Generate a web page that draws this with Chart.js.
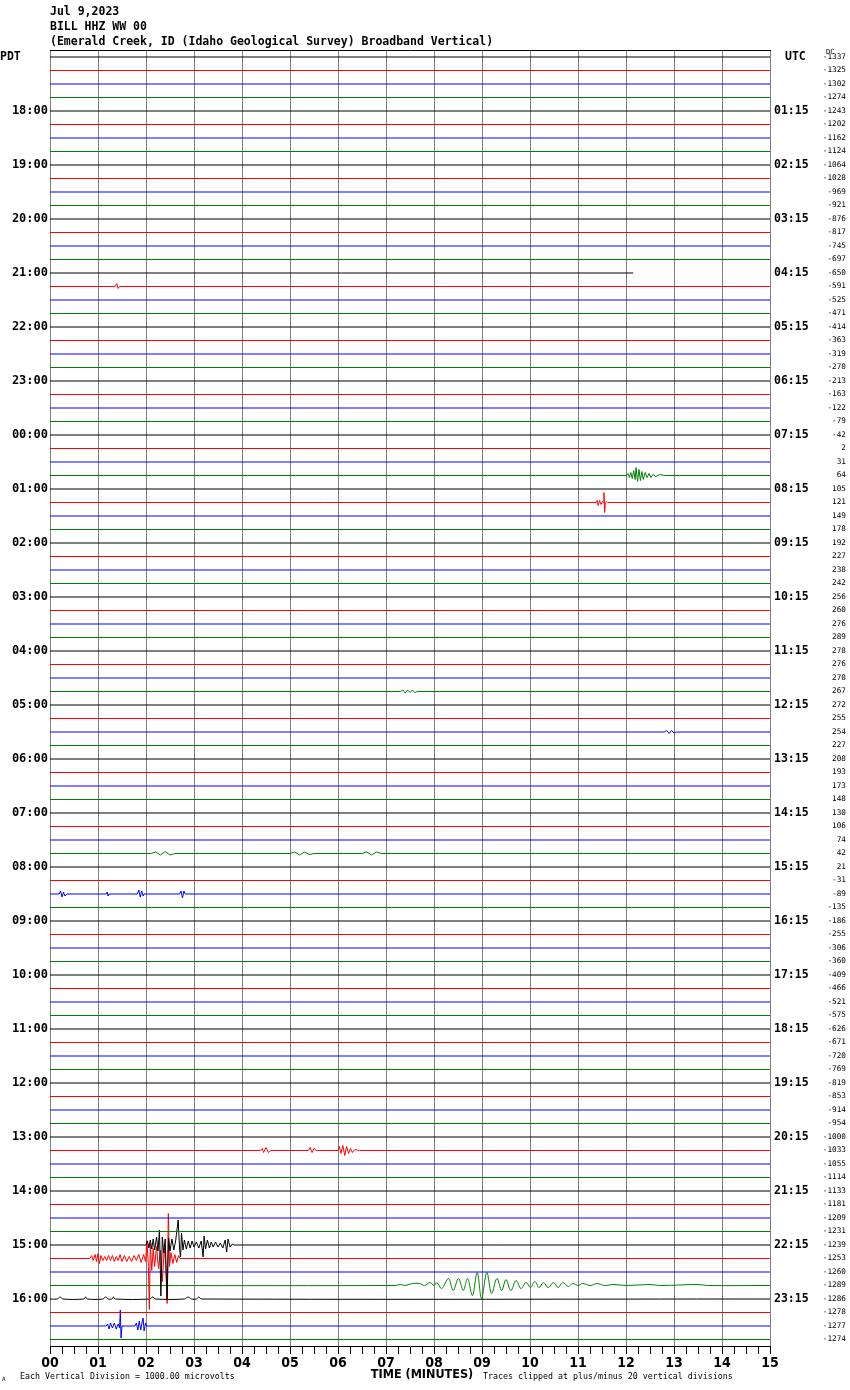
<!DOCTYPE html>
<html>
<head>
<meta charset="utf-8">
<script src="https://cdn.jsdelivr.net/npm/chart.js@4.4.0/dist/chart.umd.min.js"></script>
<style>
html,body{margin:0;padding:0;background:#fff;}
#wrap{width:850px;height:1390px;position:relative;}
</style>
</head>
<body>
<div id="wrap"><canvas id="c" width="850" height="1390"></canvas></div>
<script>
// ---------------- data ----------------
const titleLines = ['Jul 9,2023', 'BILL HHZ WW 00', '(Emerald Creek, ID (Idaho Geological Survey) Broadband Vertical)'];
const pdtHours = ['18:00','19:00','20:00','21:00','22:00','23:00','00:00','01:00','02:00','03:00','04:00','05:00',
                  '06:00','07:00','08:00','09:00','10:00','11:00','12:00','13:00','14:00','15:00','16:00'];
const utcHours = ['01:15','02:15','03:15','04:15','05:15','06:15','07:15','08:15','09:15','10:15','11:15','12:15',
                  '13:15','14:15','15:15','16:15','17:15','18:15','19:15','20:15','21:15','22:15','23:15'];
const dcOffsets = [-1337,-1325,-1302,-1274,-1243,-1202,-1162,-1124,-1064,-1028,-969,-921,-876,-817,-745,-697,
                   -650,-591,-525,-471,-414,-363,-319,-270,-213,-163,-122,-79,-42,2,31,64,
                   105,121,149,178,192,227,238,242,256,260,276,289,278,276,270,267,
                   272,255,254,227,208,193,173,148,130,106,74,42,21,-31,-89,-135,
                   -186,-255,-306,-360,-409,-466,-521,-575,-626,-671,-720,-769,-819,-853,-914,-954,
                   -1000,-1033,-1055,-1114,-1133,-1181,-1209,-1231,-1239,-1253,-1260,-1289,-1286,-1278,-1277,-1274];
const minuteLabels = ['00','01','02','03','04','05','06','07','08','09','10','11','12','13','14','15'];
const traceColors = ['#000000', '#ff0000', '#0000ff', '#008000'];

// event samples: [minute, amplitude] (amplitude in counts, positive = up)
const COUNTS_PER_TRACE = 13.5;
const ev21h15red = [[1.36,0],[1.39,3],[1.42,-2],[1.45,0]];
const ev00h45green = [[12.00,0],[12.04,2],[12.07,-2],[12.10,3],[12.13,-3],[12.16,5],[12.19,-4],[12.21,8],[12.24,-6],
  [12.27,6],[12.30,-5],[12.33,4],[12.36,-4],[12.40,3],[12.44,-2],[12.48,2],[12.52,-2],[12.56,1],[12.62,-1],[12.70,1],[12.80,0]];
const ev01h15red = [[11.38,0],[11.40,2],[11.42,-3],[11.45,2],[11.48,-2],[11.51,1],[11.53,0],[11.54,10],[11.555,-10],
  [11.57,0],[11.60,1],[11.62,0]];
const ev04h45green = [[7.30,0],[7.35,1.5],[7.40,-1.5],[7.45,1.5],[7.50,-1],[7.55,1.5],[7.60,-1],[7.65,0]];
const ev05h30blue = [[12.80,0],[12.85,1.5],[12.90,-1.5],[12.95,1.5],[13.00,-1],[13.05,0]];
const ev07h45green = [[2.1,0],[2.2,1.5],[2.3,-1.5],[2.4,2],[2.5,-1.5],[2.6,0],[5.0,0],[5.1,1.5],[5.2,-1.5],[5.3,1.5],
  [5.4,-1],[5.5,0],[6.5,0],[6.6,1.5],[6.7,-1.5],[6.8,1.5],[6.9,0]];
const ev08h30blue = [[0.19,0],[0.22,3],[0.25,-3],[0.28,2],[0.31,-2],[0.35,0],[1.17,0],[1.19,2],[1.21,-2],[1.23,0],
  [1.82,0],[1.85,4],[1.88,-3],[1.91,3],[1.94,-2],[1.96,0],[2.70,0],[2.73,3],[2.76,-4],[2.79,3],[2.82,0]];
const ev13h15red = [[4.38,0],[4.42,2],[4.45,-2],[4.50,3],[4.55,-2],[4.60,0],[5.38,0],[5.42,3],[5.46,-2],[5.50,2],[5.55,0],
  [6.00,0],[6.03,4],[6.06,-3],[6.10,5],[6.14,-5],[6.18,4],[6.22,-3],[6.26,2],[6.30,-2],[6.35,1],[6.45,0]];
const ev15h00black = [[2.00,0],[2.03,4],[2.06,-3],[2.09,5],[2.12,-4],[2.15,6],[2.18,-5],[2.22,8],[2.25,-6],[2.28,15],
  [2.31,-51],[2.34,8],[2.37,-8],[2.40,6],[2.44,-55],[2.47,7],[2.50,-6],[2.54,6],[2.58,-5],[2.62,5],[2.67,25],[2.70,-4],
  [2.72,-12],[2.74,12],[2.77,-5],[2.80,5],[2.84,-4],[2.88,4],[2.92,-3],[2.96,4],[3.00,-2],[3.05,3],[3.10,-3],[3.15,4],
  [3.19,-12],[3.21,9],[3.24,-4],[3.28,5],[3.32,-3],[3.36,3],[3.40,-2],[3.45,3],[3.50,-2],[3.55,2],[3.60,-3],[3.65,5],
  [3.68,-7],[3.71,6],[3.75,-2],[3.80,1],[3.84,0]];
const ev15h15red = [[0.83,0],[0.87,3],[0.90,-2],[0.94,4],[0.97,-3],[1.00,5],[1.03,-5],[1.06,3],[1.10,-2],[1.14,2],
  [1.18,-2],[1.22,3],[1.26,-2],[1.30,3],[1.34,-3],[1.38,2],[1.42,-2],[1.46,4],[1.50,-3],[1.55,3],[1.60,-3],[1.65,2],
  [1.70,-3],[1.75,3],[1.80,-2],[1.85,4],[1.90,-4],[1.95,4],[1.99,-3],[2.02,18],[2.05,-8],[2.07,-51],[2.09,15],[2.12,-12],
  [2.15,10],[2.18,-8],[2.22,12],[2.26,-10],[2.30,8],[2.34,-23],[2.38,10],[2.41,-6],[2.44,-45],[2.465,45],[2.49,-8],
  [2.52,6],[2.56,-5],[2.60,4],[2.64,-4],[2.68,3],[2.71,0]];
const ev15h45green = [[7.20,0],[7.30,1],[7.40,0],[7.55,2],[7.70,2],[7.80,0],[7.92,3],[8.00,0],[8.06,3],[8.16,-3],
  [8.30,7],[8.40,-5],[8.51,7],[8.61,-5],[8.70,7],[8.80,-10],[8.90,13],[8.99,-13],[9.10,13],[9.20,-8],[9.31,7],[9.41,-5],
  [9.50,6],[9.60,-5],[9.71,5],[9.81,-3],[9.92,3],[10.01,-2],[10.10,4],[10.19,-2],[10.28,3],[10.38,-2],[10.49,3],
  [10.59,-2],[10.68,3],[10.80,-1],[10.89,2],[11.00,0],[11.10,2],[11.25,0],[11.40,2],[11.55,0],[11.75,1],[12.00,0],
  [12.50,1],[12.70,0],[13.50,1],[13.70,0]];
const ev16h00black = [[0.15,0],[0.21,2],[0.27,0],[0.70,0],[0.74,2],[0.78,0],[1.10,0],[1.16,2],[1.22,0],[1.29,0],
  [1.32,2],[1.36,0],[2.08,0],[2.14,2],[2.20,0],[2.80,0],[2.88,2],[2.95,0],[3.05,0],[3.10,2],[3.15,0]];
const ev16h30blue = [[1.17,0],[1.20,2],[1.23,-3],[1.26,3],[1.30,-2],[1.34,3],[1.38,-3],[1.42,2],[1.45,-2],[1.465,16],
  [1.48,-12],[1.50,0],[1.77,0],[1.80,3],[1.83,-4],[1.86,5],[1.89,-4],[1.92,4],[1.94,8],[1.96,-5],[1.99,3],[2.01,0]];

const gapRow = 16, gapStartMinute = 12.15;   // 21:00 trace stops here
const smoothRows = [91, 92];

// ---------------- build ----------------
const traceEvents = {17: ev21h15red, 31: ev00h45green, 33: ev01h15red, 47: ev04h45green, 50: ev05h30blue,
  59: ev07h45green, 62: ev08h30blue, 81: ev13h15red, 88: ev15h00black, 89: ev15h15red, 91: ev15h45green,
  92: ev16h00black, 94: ev16h30blue};

const ROWS = dcOffsets.length;
const ROW_PX = 13.5;
const Y_MIN = -7 / ROW_PX, Y_MAX = Y_MIN + 1296 / ROW_PX;
const rowIdx = Array.from({length: ROWS}, (_, i) => i);
const quarterTicks = Array.from({length: 61}, (_, i) => i / 4);

const datasets = rowIdx.map(r => {
  const ev = traceEvents[r] || [];
  const end = r === gapRow ? gapStartMinute : 15;
  const pts = [{x: 0, y: r}].concat(ev.map(([m, a]) => ({x: m, y: r - a / COUNTS_PER_TRACE})), [{x: end, y: r}]);
  return {data: pts, borderColor: traceColors[r % 4], borderWidth: 1, pointRadius: 0,
          tension: smoothRows.includes(r) ? 0.35 : 0, fill: false};
});

const SANS = "'Liberation Sans Narrow', 'DejaVu Sans Condensed', 'Liberation Sans', 'DejaVu Sans', sans-serif";
const monoB = (s) => ({family: 'DejaVu Sans Mono', size: s, weight: 'bold'});

const textPlugin = {
  id: 'texts',
  afterDraw(chart) {
    const c = chart.ctx;
    c.save();
    c.fillStyle = '#000';
    c.textBaseline = 'middle';
    c.textAlign = 'left';
    c.font = 'bold 11.5px "DejaVu Sans Mono"';
    c.fillText(titleLines[0], 50, 12);
    c.fillText(titleLines[1], 50, 27);
    c.fillText(titleLines[2], 50, 42);
    c.fillText('PDT', 0, 57);
    c.fillText('UTC', 785, 57);
    c.font = '7px "DejaVu Sans Mono"';
    c.fillText('DC', 826, 52);
    c.font = '8.3px "DejaVu Sans Mono"';
    c.fillText('Each Vertical Division = 1000.00 microvolts', 20, 1377);
    c.fillText('Traces clipped at plus/minus 20 vertical divisions', 483, 1377);
    c.font = '6px "DejaVu Sans Mono"';
    c.fillText('A', 2, 1379);
    c.font = 'bold 12.5px ' + SANS;
    c.textAlign = 'center';
    c.fillText('TIME (MINUTES)', 422, 1375);
    c.restore();
  }
};

new Chart(document.getElementById('c'), {
  type: 'line',
  data: {datasets},
  options: {
    responsive: false, animation: false, events: [],
    layout: {padding: {top: 50, left: 0, right: 4, bottom: 0}},
    plugins: {legend: {display: false}, tooltip: {enabled: false}, title: {display: false}},
    scales: {
      x: {
        type: 'linear', position: 'bottom', min: 0, max: 15,
        afterBuildTicks: s => { s.ticks = quarterTicks.map(v => ({value: v})); },
        afterFit: s => { s.height = 44; },
        ticks: {autoSkip: false, maxRotation: 0, minRotation: 0, padding: 1, color: '#000',
                font: {family: SANS, size: 14, weight: 'bold'},
                callback: v => Number.isInteger(v) ? minuteLabels[v] : ''},
        grid: {color: ctx => (ctx.tick && Number.isInteger(ctx.tick.value)) ? '#808080' : 'rgba(0,0,0,0)',
               tickColor: '#000', tickLength: 8, lineWidth: 1},
        border: {color: '#000', width: 1}
      },
      xTop: {
        type: 'linear', position: 'top', min: 0, max: 15,
        ticks: {display: false}, grid: {display: false, drawTicks: false},
        afterFit: s => { s.height = 0; },
        border: {color: '#000', width: 1}
      },
      y: {
        type: 'linear', position: 'left', reverse: true, min: Y_MIN, max: Y_MAX,
        afterBuildTicks: s => { s.ticks = rowIdx.map(v => ({value: v})); },
        afterFit: s => { s.width = 50; },
        ticks: {autoSkip: false, padding: 2, color: '#000', font: monoB(12),
                callback: v => (v % 4 === 0 && v > 0) ? pdtHours[v / 4 - 1] : ''},
        grid: {display: false, drawTicks: false}, border: {display: false}
      },
      yUtc: {
        type: 'linear', position: 'right', reverse: true, min: Y_MIN, max: Y_MAX, weight: 0,
        afterBuildTicks: s => { s.ticks = rowIdx.map(v => ({value: v})); },
        afterFit: s => { s.width = 48; },
        ticks: {autoSkip: false, padding: 4, color: '#000', font: monoB(11.5),
                callback: v => (v % 4 === 0 && v > 0) ? utcHours[v / 4 - 1] : ''},
        grid: {display: false, drawTicks: false}, border: {display: false}
      },
      yDc: {
        type: 'linear', position: 'right', reverse: true, min: Y_MIN, max: Y_MAX, weight: 1,
        afterBuildTicks: s => { s.ticks = rowIdx.map(v => ({value: v})); },
        afterFit: s => { s.width = 28; },
        ticks: {autoSkip: false, padding: 0, crossAlign: 'far', color: '#000',
                font: {family: 'DejaVu Sans Mono', size: 7.7},
                callback: v => String(dcOffsets[v])},
        grid: {display: false, drawTicks: false}, border: {display: false}
      }
    }
  },
  plugins: [textPlugin]
});
</script>
</body>
</html>
